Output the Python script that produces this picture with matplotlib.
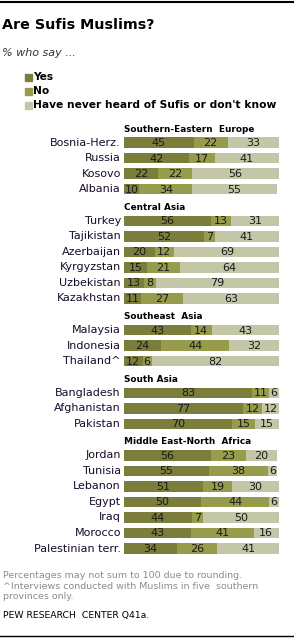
import matplotlib.pyplot as plt
from matplotlib.patches import Rectangle

# data
groups = ['Southern-Eastern  Europe', 'Central Asia', 'Southeast  Asia',
          'South Asia', 'Middle East-North  Africa']
countries = [
    ['Bosnia-Herz.', 'Russia', 'Kosovo', 'Albania'],
    ['Turkey', 'Tajikistan', 'Azerbaijan', 'Kyrgyzstan', 'Uzbekistan', 'Kazakhstan'],
    ['Malaysia', 'Indonesia', 'Thailand^'],
    ['Bangladesh', 'Afghanistan', 'Pakistan'],
    ['Jordan', 'Tunisia', 'Lebanon', 'Egypt', 'Iraq', 'Morocco', 'Palestinian terr.'],
]
yes = [
    [45, 42, 22, 10],
    [56, 52, 20, 15, 13, 11],
    [43, 24, 12],
    [83, 77, 70],
    [56, 55, 51, 50, 44, 43, 34],
]
no = [
    [22, 17, 22, 34],
    [13, 7, 12, 21, 8, 27],
    [14, 44, 6],
    [11, 12, 15],
    [23, 38, 19, 44, 7, 41, 26],
]
dk = [
    [33, 41, 56, 55],
    [31, 41, 69, 64, 79, 63],
    [43, 32, 82],
    [6, 12, 15],
    [20, 6, 30, 6, 50, 16, 41],
]
series = ['Yes', 'No', "Have never heard of Sufis or don't know"]
colors = ['#7b7e3b', '#979c4c', '#c3c7a8']

W, H = 294, 640
fig = plt.figure(figsize=(W / 100, H / 100), dpi=100)

# overlay axes in pixel units for the text around the chart
bg = fig.add_axes([0, 0, 1, 1])
bg.set_xlim(0, W)
bg.set_ylim(H, 0)
bg.axis('off')

bg.plot([0, W], [1.5, 1.5], color='black', lw=1.5)
bg.plot([0, W], [636, 636], color='black', lw=1)
bg.text(2, 25, 'Are Sufis Muslims?', fontsize=10.3, fontweight='bold', va='center')
bg.text(2, 53, '% who say ...', fontsize=8, style='italic', va='center', color='#333333')

for i, (name, c) in enumerate(zip(series, colors)):
    y = 77 + i * 14
    bg.add_patch(Rectangle((25, y - 3.5), 7, 7, color=c))
    bg.text(33, y, name, fontsize=7.7, fontweight='bold', va='center')

grey = '#8c8c8c'
bg.text(3, 576, 'Percentages may not sum to 100 due to rounding.', fontsize=6.8,
        color=grey, va='center')
bg.text(3, 586.5, '^Interviews conducted with Muslims in five  southern', fontsize=6.8,
        color=grey, va='center')
bg.text(3, 596.5, 'provinces only.', fontsize=6.8, color=grey, va='center')
bg.text(3, 615.5, 'PEW RESEARCH  CENTER Q41a.', fontsize=6.7, va='center')

# bar axes: x in percent, y in pixel rows
ax = fig.add_axes([124 / W, 0, 154.7 / W, 1])
ax.set_xlim(0, 100)
ax.set_ylim(H, 0)
ax.axis('off')

y = 129
for g, name in enumerate(groups):
    ax.text(0, y, name, fontsize=6.4, fontweight='bold', va='center')
    y += 13.7
    for k, country in enumerate(countries[g]):
        vals = [yes[g][k], no[g][k], dk[g][k]]
        left = 0
        for v, c in zip(vals, colors):
            ax.barh(y, v, left=left, height=10.5, color=c)
            ax.text(left + v / 2, y + 0.5, str(v), ha='center', va='center',
                    fontsize=8, color='#1a1a1a')
            left += v
        ax.text(-2, y, country, ha='right', va='center', fontsize=8, color='#1a0a2a')
        y += 15.5
    y += 2.5

fig.savefig('out.png', dpi=100)
